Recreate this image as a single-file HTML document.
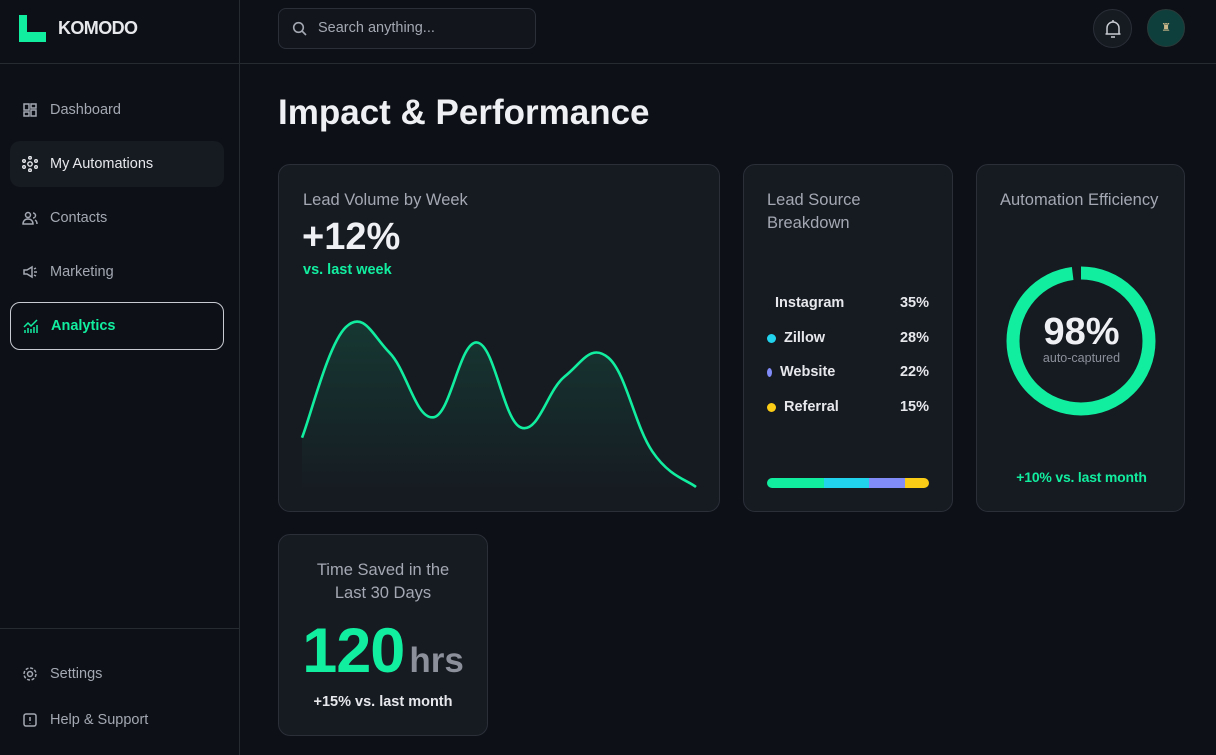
<!DOCTYPE html>
<html><head><meta charset="utf-8">
<style>
*{box-sizing:border-box;margin:0;padding:0}
body{width:1216px;height:755px;overflow:hidden;background:#0d1016;font-family:"Liberation Sans",sans-serif;color:#e6e8ec;position:relative}
.abs{position:absolute}
.side{left:0;top:0;width:240px;height:755px;border-right:1px solid #262a31}
.nav{position:absolute;left:10px;width:214px;height:46px;display:flex;align-items:center;padding-left:12px;font-size:14.5px;color:#a3a8b2;border-radius:10px}
.nav svg{width:16px;height:16px;margin-right:12px}
.card{position:absolute;background:#161a21;border:1px solid #2a2f38;border-radius:12px}
.ctitle{font-size:16.5px;color:#a3a8b2;line-height:23px}
.row{position:absolute;left:23px;right:23px;display:flex;align-items:center;font-size:14.5px;font-weight:bold;color:#e6e8ec}
.row span.v{margin-left:auto}
.dot{width:9px;height:9px;border-radius:50%;margin-right:8px}
</style></head><body>
<div class="abs side">
  <div class="abs" style="left:19px;top:15px;width:120px;height:28px">
    <svg width="27" height="27" viewBox="0 0 27 27" class="abs" style="left:0;top:0"><path d="M0 0H8V17H27V27H0Z" fill="#12eea0"/></svg>
    <div class="abs" style="left:39px;top:3px;font-size:18px;font-weight:bold;color:#e6e8ec;letter-spacing:-0.6px">KOMODO</div>
  </div>
  <div class="abs" style="left:0;top:63px;width:240px;border-top:1px solid #262a31"></div>
  <div class="nav" style="top:87px"><svg viewBox="0 0 16 16" fill="none" stroke="#a3a8b2" stroke-width="1.5"><rect x="2" y="2" width="5" height="6"/><rect x="9" y="2" width="5" height="4"/><rect x="2" y="10" width="5" height="4"/><rect x="9" y="8" width="5" height="6"/></svg>Dashboard</div>
  <div class="nav" style="top:141px;background:#161a21;color:#e6e8ec"><svg viewBox="0 0 16 16" fill="none" stroke="#e6e8ec" stroke-width="1.4"><circle cx="8" cy="8" r="2.2"/><circle cx="8" cy="1.8" r="1.3"/><circle cx="8" cy="14.2" r="1.3"/><circle cx="2" cy="5" r="1.3"/><circle cx="14" cy="5" r="1.3"/><circle cx="2" cy="11" r="1.3"/><circle cx="14" cy="11" r="1.3"/></svg>My Automations</div>
  <div class="nav" style="top:195px"><svg viewBox="0 0 16 16" fill="none" stroke="#a3a8b2" stroke-width="1.5"><circle cx="6" cy="5" r="2.5"/><path d="M1 14c0-3 2-5 5-5s5 2 5 5z"/><path d="M11 3a2.5 2.5 0 0 1 0 5M13 10c1.5.7 2 2 2 4"/></svg>Contacts</div>
  <div class="nav" style="top:249px"><svg viewBox="0 0 16 16" fill="none" stroke="#a3a8b2" stroke-width="1.5"><path d="M2 6h3l5-3v10l-5-3H2z"/><path d="M12 5l2-1M12 8h3M12 11l2 1"/></svg>Marketing</div>
  <div class="nav" style="top:302px;height:48px;border:1px solid #c8ccd2;color:#12eea0;font-weight:bold"><svg viewBox="0 0 16 16" fill="none" stroke="#12eea0" stroke-width="1.5"><path d="M1 9l4-4 3 3 6-6"/><path d="M2 15v-3M5 15v-5M8 15v-4M11 15v-6M14 15v-8"/></svg>Analytics</div>
  <div class="abs" style="left:0;top:628px;width:240px;border-top:1px solid #262a31"></div>
  <div class="nav" style="top:651px"><svg viewBox="0 0 16 16" fill="none" stroke="#a3a8b2" stroke-width="1.5"><circle cx="8" cy="8" r="2.5"/><circle cx="8" cy="8" r="6" stroke-dasharray="3 1.7"/></svg>Settings</div>
  <div class="nav" style="top:697px"><svg viewBox="0 0 16 16" fill="none" stroke="#a3a8b2" stroke-width="1.5"><rect x="2" y="2" width="12" height="12" rx="2"/><path d="M8 11v.5M8 9V5"/></svg>Help &amp; Support</div>
</div>

<div class="abs" style="left:240px;top:63px;width:976px;border-top:1px solid #262a31"></div>
<div class="abs" style="left:278px;top:8px;width:258px;height:41px;border:1px solid #2a2f38;border-radius:8px;background:#12151b">
  <svg class="abs" style="left:13px;top:12px" width="16" height="16" viewBox="0 0 16 16" fill="none" stroke="#a3a8b2" stroke-width="1.6"><circle cx="6.5" cy="6.5" r="4.8"/><path d="M10 10l4 4"/></svg>
  <div class="abs" style="left:39px;top:11px;font-size:14.5px;color:#a3a8b2">Search anything...</div>
</div>
<div class="abs" style="left:1093px;top:9px;width:39px;height:39px;border-radius:50%;border:1px solid #2a2f38;background:#161a21">
  <svg class="abs" style="left:10px;top:9px" width="18" height="20" viewBox="0 0 18 20" fill="none" stroke="#c8ccd2" stroke-width="1.5"><path d="M3 15V9a6 6 0 0 1 12 0v6h1.5H1.5z"/><path d="M7 18h4M9 1v2"/></svg>
</div>
<div class="abs" style="left:1147px;top:9px;width:38px;height:38px;border-radius:50%;border:1px solid #2a3a3a;background:#0f3f3c;color:#c9b88a;font-size:11px;text-align:center;line-height:36px">♜</div>

<div class="abs" style="left:278px;top:93px;font-size:35px;font-weight:bold;color:#eef0f3">Impact &amp; Performance</div>

<div class="card" style="left:278px;top:164px;width:442px;height:348px">
  <div class="ctitle abs" style="left:24px;top:24px">Lead Volume by Week</div>
  <div class="abs" style="left:23px;top:51px;font-size:38px;font-weight:bold;color:#eef0f3">+12%</div>
  <div class="abs" style="left:24px;top:97px;font-size:14.5px;font-weight:bold;color:#12eea0">vs. last week</div>
</div>
<svg id="chart" class="abs" style="left:0;top:0" width="1216" height="755">
  <defs><linearGradient id="g" x1="0" y1="0" x2="0" y2="1"><stop offset="0" stop-color="#12eea0" stop-opacity="0.14"/><stop offset="1" stop-color="#12eea0" stop-opacity="0.01"/></linearGradient></defs>
</svg>

<div class="card" style="left:743px;top:164px;width:210px;height:348px">
  <div class="ctitle abs" style="left:23px;top:24px;width:150px">Lead Source Breakdown</div>
  <div class="row" style="top:130px"><span style="margin-left:8px">Instagram</span><span class="v">35%</span></div>
  <div class="row" style="top:165px"><span class="dot" style="background:#22d3ee"></span>Zillow<span class="v">28%</span></div>
  <div class="row" style="top:199px"><span class="dot" style="background:#818cf8;width:5px;margin-right:8px"></span>Website<span class="v">22%</span></div>
  <div class="row" style="top:234px"><span class="dot" style="background:#facc15"></span>Referral<span class="v">15%</span></div>
  <div id="stack" class="abs" style="left:23px;top:313px;width:162px;height:10px;border-radius:5px;overflow:hidden;display:flex"></div>
</div>

<div class="card" style="left:976px;top:164px;width:209px;height:348px">
  <div class="ctitle abs" style="left:23px;top:24px">Automation Efficiency</div>
  <svg class="abs" style="left:28px;top:100px" width="152" height="152" viewBox="0 0 152 152">
    <circle id="ring" cx="76" cy="76" r="68" fill="none" stroke="#12eea0" stroke-width="13" transform="rotate(-90 76 76)"/>
  </svg>
  <div class="abs" style="left:0;width:209px;text-align:center;top:146px;font-size:38px;font-weight:bold;color:#eef0f3">98%</div>
  <div class="abs" style="left:0;width:209px;text-align:center;top:186px;font-size:12.5px;color:#8b909a">auto-captured</div>
  <div class="abs" style="left:0;width:209px;text-align:center;top:304px;font-size:14px;color:#12eea0;font-weight:bold;letter-spacing:-0.2px">+10% vs. last month</div>
</div>

<div class="card" style="left:278px;top:534px;width:210px;height:202px">
  <div class="ctitle abs" style="left:0;width:208px;text-align:center;top:24px">Time Saved in the<br>Last 30 Days</div>
  <div class="abs" style="left:0;width:208px;text-align:center;top:80px;white-space:nowrap"><span style="font-size:63px;font-weight:bold;color:#12eea0;letter-spacing:-1px">120</span><span style="font-size:35px;font-weight:bold;color:#8b909a;margin-left:5px">hrs</span></div>
  <div class="abs" style="left:0;width:208px;text-align:center;top:159px;font-size:14.5px;font-weight:bold;color:#e6e8ec">+15% vs. last month</div>
</div>

<script>
const weeks=[1,2,3,4,5,6,7,8,9,10];
const leads=[29,94,79,41,85,35,65,76,21,0];
const sources=['Instagram','Zillow','Website','Referral'];
const shares=[35,28,22,15];
const efficiency=98;

const x0=302,x1=696,yb=487,yt=317;
const xs=i=>x0+(x1-x0)*i/(weeks.length-1);
const ys=v=>yb-(yb-yt)*v/100;
const pts=leads.map((v,i)=>[xs(i),ys(v)]);
let d='M'+pts[0][0]+','+pts[0][1];
for(let i=0;i<pts.length-1;i++){
  const p0=pts[Math.max(i-1,0)],p1=pts[i],p2=pts[i+1],p3=pts[Math.min(i+2,pts.length-1)];
  const t=0.2;
  d+=` C${p1[0]+(p2[0]-p0[0])*t},${p1[1]+(p2[1]-p0[1])*t} ${p2[0]-(p3[0]-p1[0])*t},${p2[1]-(p3[1]-p1[1])*t} ${p2[0]},${p2[1]}`;
}
const svg=document.getElementById('chart');
const NS='http://www.w3.org/2000/svg';
const area=document.createElementNS(NS,'path');
area.setAttribute('d',d+` L${x1},${yb} L${x0},${yb} Z`);
area.setAttribute('fill','url(#g)');


svg.appendChild(area);
const line=document.createElementNS(NS,'path');
line.setAttribute('d',d);
line.setAttribute('fill','none');
line.setAttribute('stroke','#12eea0');
line.setAttribute('stroke-width','2.6');


svg.appendChild(line);

const colors=['#12eea0','#22d3ee','#818cf8','#facc15'];
const st=document.getElementById('stack');
const tot=shares.reduce((a,b)=>a+b,0);
shares.forEach((s,i)=>{
  const seg=document.createElement('div');
  
  
  seg.style.width=(s/tot*100)+'%';
  seg.style.background=colors[i];
  st.appendChild(seg);
});

const ring=document.getElementById('ring');
const C=2*Math.PI*68;
ring.setAttribute('stroke-dasharray',(C*efficiency/100)+' '+C);
</script>
</body></html>
